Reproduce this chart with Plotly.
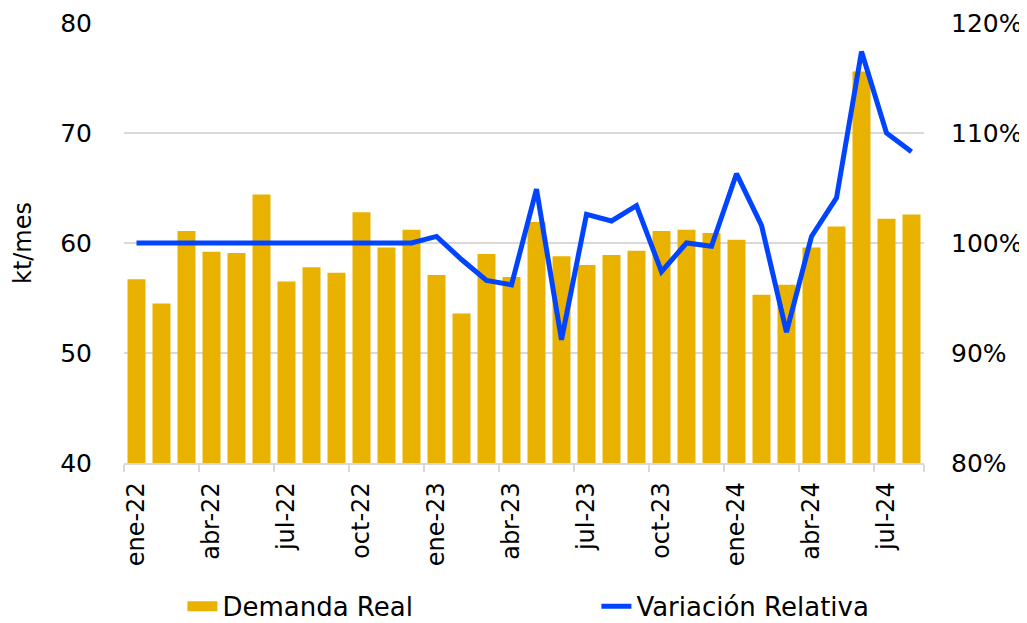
import plotly.graph_objects as go

months = ["ene-22","feb-22","mar-22","abr-22","may-22","jun-22","jul-22","ago-22","sep-22","oct-22","nov-22","dic-22",
          "ene-23","feb-23","mar-23","abr-23","may-23","jun-23","jul-23","ago-23","sep-23","oct-23","nov-23","dic-23",
          "ene-24","feb-24","mar-24","abr-24","may-24","jun-24","jul-24","ago-24"]
demanda_real = [56.7, 54.5, 61.1, 59.2, 59.1, 64.4, 56.5, 57.8, 57.3, 62.8, 59.6, 61.2,
                57.1, 53.6, 59.0, 56.9, 61.9, 58.8, 58.0, 58.9, 59.3, 61.1, 61.2, 60.9,
                60.3, 55.3, 56.2, 59.6, 61.5, 75.6, 62.2, 62.6]
variacion_relativa = [100.0, 100.0, 100.0, 100.0, 100.0, 100.0, 100.0, 100.0, 100.0, 100.0, 100.0, 100.0,
                      100.6, 98.5, 96.6, 96.2, 104.9, 91.2, 102.6, 102.0, 103.4, 97.4, 100.0, 99.7,
                      106.3, 101.6, 91.9, 100.6, 104.1, 117.4, 110.0, 108.3]
tick_labels = months[::3]

x = list(range(len(months)))
font = "DejaVu Sans, Verdana, sans-serif"
bar_color = "#EAB200"
line_color = "#0044FF"

fig = go.Figure()
fig.add_trace(go.Bar(x=x, y=demanda_real, name="Demanda Real", marker_color=bar_color,
                     marker_line_width=0, yaxis="y", showlegend=False))
# legend-only entry giving the wide rectangular swatch of the bar series
fig.add_trace(go.Scatter(x=[None], y=[None], name="Demanda Real", mode="lines",
                         line=dict(color=bar_color, width=15), yaxis="y", showlegend=True,
                         legend="legend"))
fig.add_trace(go.Scatter(x=x, y=[v / 100 for v in variacion_relativa], name="Variación Relativa",
                         mode="lines", line=dict(color=line_color, width=5), yaxis="y2",
                         legend="legend2"))

legend_common = dict(orientation="h", xanchor="left", y=-0.326, yanchor="middle",
                     font=dict(size=26), bgcolor="rgba(0,0,0,0)")

fig.update_layout(
    width=1027, height=623,
    margin=dict(l=116, r=111, t=15, b=168, autoexpand=False),
    paper_bgcolor="white", plot_bgcolor="white",
    font=dict(family=font, size=24, color="#000000"),
    bargap=0.28,
    showlegend=True,
    legend=dict(x=0.073, **legend_common),
    legend2=dict(x=0.5905, **legend_common),
    xaxis=dict(range=[-0.5, len(months) - 0.5], tickmode="array", tickvals=x[::3], ticktext=tick_labels,
               tickangle=-90, ticks="", showgrid=False, zeroline=False, automargin=False,
               showline=True, linecolor="#d9d9d9", linewidth=1.5,
               tickfont=dict(size=24), ticklabelstandoff=8,
               minor=dict(tickmode="array", tickvals=[i - 0.5 for i in x[::3]] + [len(months) - 0.5],
                          ticks="outside", ticklen=7, tickcolor="#d9d9d9", tickwidth=1.5, showgrid=False)),
    yaxis=dict(range=[40, 80], dtick=10, showgrid=True, gridcolor="#d9d9d9", gridwidth=1.5,
               zeroline=False, ticks="", ticklabelstandoff=31, automargin=False,
               tickfont=dict(size=25),
               title=dict(text="kt/mes", font=dict(size=24), standoff=21)),
    yaxis2=dict(range=[0.8, 1.2], dtick=0.1, tickformat=".0%", overlaying="y", side="right",
                showgrid=False, zeroline=False, ticks="", ticklabelstandoff=26, automargin=False,
                tickfont=dict(size=25)),
)

fig.write_html("out.html")
